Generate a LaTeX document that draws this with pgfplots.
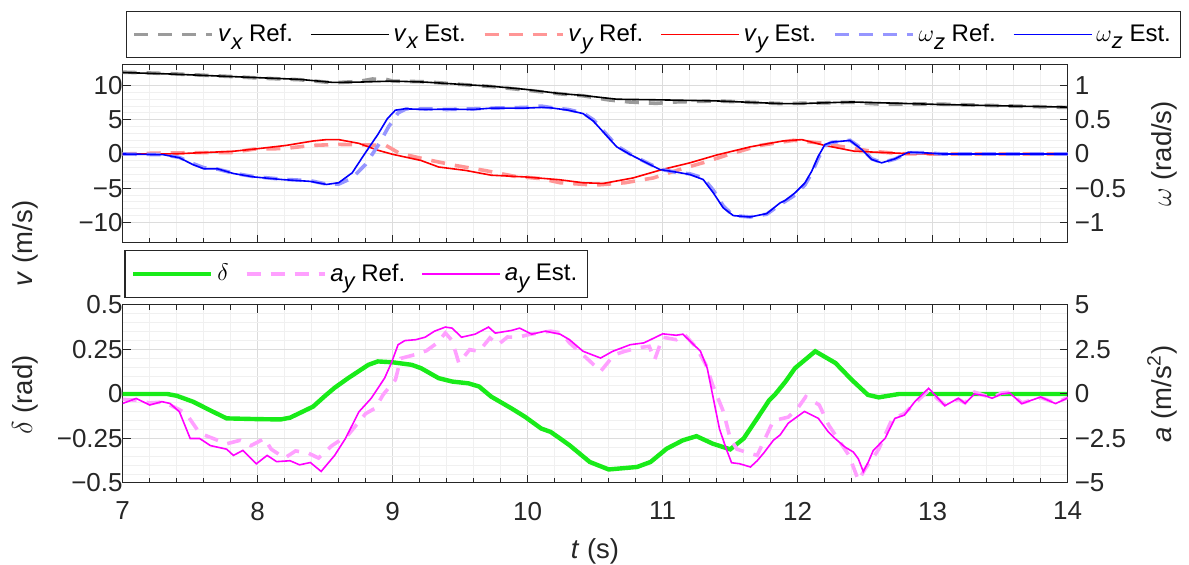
\documentclass[border=0pt]{standalone}
\usepackage{fontspec}
\setmainfont{Liberation Sans}
\usepackage{pgfplots}
\pgfplotsset{compat=1.18}
\definecolor{axgray}{RGB}{38,38,38}
\definecolor{gridmaj}{RGB}{220,220,220}
\definecolor{gridmin}{RGB}{240,240,240}
\definecolor{vxref}{RGB}{155,155,155}
\definecolor{vxest}{RGB}{0,0,0}
\definecolor{vyref}{RGB}{255,150,150}
\definecolor{vyest}{RGB}{255,0,0}
\definecolor{wzref}{RGB}{150,150,255}
\definecolor{wzest}{RGB}{0,0,255}
\definecolor{dgreen}{RGB}{25,235,25}
\definecolor{ayref}{RGB}{255,160,255}
\definecolor{ayest}{RGB}{255,0,255}
\pgfplotsset{
  myaxis/.style={
    scale only axis, width=472.5pt, height=89pt,
    xmin=7, xmax=14,
    axis line style={axgray, line width=0.5pt},
    tick style={axgray, line width=0.5pt},
    major tick length=4pt, minor tick length=2.5pt,
    tick label style={font=\fontsize{13}{15}\selectfont, color=axgray},
  },
  refline/.style={line width=1.8pt, dash pattern=on 7pt off 5pt},
  estline/.style={line width=0.8pt},
  legline/.style={
    legend columns=-1,
    legend image code/.code={\draw[##1] (0pt,0pt) -- (39pt,0pt);},
  },
}
\newcommand{\sub}[1]{\raisebox{-0.6ex}{\fontsize{11}{11}\selectfont\itshape #1}}
\begin{document}
\begin{tikzpicture}
\useasboundingbox (0,0) rectangle (594.5pt,-282.5pt);
% ---------------- top panel, left axis (v)
\begin{axis}[myaxis, at={(61.35pt,-32.5pt)}, anchor=north west,
  ymin=-13, ymax=13, ytick={-10,-5,0,5,10}, yticklabels={−10,−5,0,5,10},
  yticklabel style={xshift=3.5pt},
  xtick={7,8,...,14}, xticklabels={}, minor x tick num=4, minor y tick num=4,
  grid=both, major grid style={gridmaj, line width=0.5pt}, minor grid style={gridmin, line width=0.5pt},
  ytick pos=left, xtick pos=both, minor y tick style={draw=none}]
\addplot[vxref, refline] coordinates {(7.0,11.95) (7.33,11.75) (7.82,11.3) (8.0,11.1) (8.31,10.85) (8.56,10.4) (8.75,10.6) (8.85,10.95) (8.95,10.9) (9.0,10.65) (9.24,10.55) (9.48,10.2) (9.73,9.85) (9.98,9.35) (10.23,8.8) (10.41,8.5) (10.6,7.9) (10.75,7.6) (10.95,7.4) (11.1,7.6) (11.4,7.75) (11.89,7.35) (12.0,7.4) (12.4,7.55) (12.6,7.3) (13.02,7.3) (13.6,7.0) (14.0,6.8)};
\addplot[vxest, estline] coordinates {(7.0,11.9) (7.33,11.7) (7.82,11.3) (8.0,11.15) (8.31,10.9) (8.56,10.45) (8.75,10.5) (9.0,10.65) (9.24,10.5) (9.48,10.2) (9.73,9.9) (9.98,9.45) (10.23,8.85) (10.41,8.55) (10.66,8.0) (11.0,7.9) (11.4,7.75) (11.89,7.35) (12.0,7.35) (12.4,7.6) (13.02,7.25) (13.6,7.0) (14.0,6.85)};
\addplot[vyref, refline] coordinates {(7.0,0) (7.3,0.15) (7.6,0.2) (7.8,0.2) (7.97,0.7) (8.2,0.8) (8.4,1.25) (8.6,1.4) (8.85,1.3) (8.95,1.25) (9.05,0.1) (9.25,-0.8) (9.47,-1.7) (9.68,-2.4) (9.9,-3.25) (10.1,-3.6) (10.24,-4.2) (10.5,-4.55) (10.72,-4.2) (10.93,-3.5) (11.12,-2.3) (11.32,-1.15) (11.5,0.0) (11.72,1.25) (11.97,2.0) (12.17,1.6) (12.38,0.9) (12.55,0.4) (12.76,0.05) (13.0,0) (14.0,0)};
\addplot[vyest, estline] coordinates {(7.0,0) (7.4,0.03) (7.82,0.4) (7.99,0.75) (8.21,1.25) (8.41,1.9) (8.51,2.1) (8.6,2.1) (8.75,1.55) (8.89,0.55) (9.0,-0.05) (9.21,-0.95) (9.34,-1.9) (9.54,-2.4) (9.73,-3.1) (9.98,-3.35) (10.23,-3.75) (10.41,-4.2) (10.56,-4.3) (10.78,-3.5) (11.0,-2.25) (11.2,-1.3) (11.4,-0.15) (11.65,1.05) (11.89,1.9) (12.03,2.1) (12.2,1.25) (12.42,0.4) (12.82,0.05) (13.2,0) (14.0,0)};
\end{axis}
% ---------------- top panel, right axis (omega)
\begin{axis}[myaxis, legline, at={(61.35pt,-32.5pt)}, anchor=north west,
  axis x line=none, axis y line*=right,
  ymin=-1.3, ymax=1.3, ytick={-1,-0.5,0,0.5,1}, yticklabels={−1,−0.5,0,0.5,1},
  legend style={at={(0.0035,1.3034)}, anchor=north west, draw=axgray, line width=0.6pt,
    font=\fontsize{12}{14}\selectfont, inner xsep=3pt, inner ysep=4.3pt,
    /tikz/every even column/.append style={column sep=6.5pt}}]
\addlegendimage{vxref, refline}
\addlegendentry{\textit{v}\sub{x} Ref.}
\addlegendimage{vxest, estline}
\addlegendentry{\textit{v}\sub{x} Est.}
\addlegendimage{vyref, refline}
\addlegendentry{\textit{v}\sub{y} Ref.}
\addlegendimage{vyest, estline}
\addlegendentry{\textit{v}\sub{y} Est.}
\addplot[wzref, refline] coordinates {(7.0,0) (7.3,-0.01) (7.42,-0.05) (7.52,-0.14) (7.6,-0.2) (7.7,-0.22) (7.82,-0.28) (7.97,-0.33) (8.19,-0.37) (8.39,-0.39) (8.51,-0.44) (8.6,-0.44) (8.7,-0.35) (8.8,-0.15) (8.9,0.15) (8.97,0.40) (9.04,0.6) (9.1,0.66) (9.24,0.66) (9.4,0.65) (9.6,0.66) (9.73,0.67) (9.98,0.68) (10.1,0.70) (10.165,0.68) (10.3,0.65) (10.41,0.60) (10.486,0.50) (10.61,0.23) (10.659,0.12) (10.758,0.0) (10.856,-0.10) (10.98,-0.22) (11.104,-0.27) (11.202,-0.29) (11.3,-0.35) (11.375,-0.53) (11.449,-0.76) (11.523,-0.90) (11.647,-0.92) (11.77,-0.88) (11.869,-0.74) (11.98,-0.6) (12.054,-0.45) (12.104,-0.28) (12.153,-0.06) (12.202,0.12) (12.252,0.17) (12.387,0.2) (12.474,0.08) (12.548,-0.07) (12.622,-0.125) (12.72,-0.075) (12.819,0.02) (12.943,0.02) (13.07,0) (14.0,0)};
\addlegendentry{$\omega$\sub{z} Ref.}
\addplot[wzest, estline] coordinates {(7.0,0) (7.3,-0.01) (7.42,-0.055) (7.52,-0.155) (7.6,-0.215) (7.7,-0.215) (7.82,-0.285) (7.97,-0.335) (8.19,-0.375) (8.39,-0.40) (8.51,-0.445) (8.6,-0.42) (8.7,-0.275) (8.79,-0.005) (8.89,0.285) (8.96,0.515) (9.02,0.64) (9.09,0.66) (9.24,0.65) (9.4,0.655) (9.6,0.65) (9.73,0.67) (9.98,0.67) (10.1,0.68) (10.165,0.676) (10.3,0.64) (10.41,0.59) (10.486,0.481) (10.61,0.212) (10.659,0.105) (10.758,-0.007) (10.856,-0.105) (10.98,-0.227) (11.104,-0.266) (11.202,-0.30) (11.3,-0.373) (11.375,-0.568) (11.449,-0.788) (11.523,-0.90) (11.647,-0.92) (11.77,-0.871) (11.869,-0.715) (11.906,-0.68) (11.98,-0.568) (12.054,-0.422) (12.104,-0.251) (12.153,-0.032) (12.202,0.139) (12.252,0.173) (12.387,0.198) (12.474,0.066) (12.548,-0.08) (12.622,-0.129) (12.72,-0.071) (12.819,0.027) (12.943,0.017) (13.07,0) (14.0,0)};
\addlegendentry{$\omega$\sub{z} Est.}
\end{axis}
% ---------------- bottom panel, left axis (delta)
\begin{axis}[myaxis, at={(61.35pt,-152.5pt)}, anchor=north west,
  ymin=-0.5, ymax=0.5, ytick={-0.5,-0.25,0,0.25,0.5}, yticklabels={−0.5,−0.25,0,0.25,0.5},
  yticklabel style={xshift=3.5pt}, xticklabel style={yshift=-6pt},
  xtick={7,8,...,14}, xticklabels={7,8,9,10,11,12,13,14}, minor x tick num=4, minor y tick num=4,
  grid=both, major grid style={gridmaj, line width=0.5pt}, minor grid style={gridmin, line width=0.5pt},
  ytick pos=left, xtick pos=both, xticklabel pos=lower, minor y tick style={draw=none}]
\addplot[dgreen, line width=2.2pt] coordinates {(7.0,0) (7.33,0) (7.4,-0.01) (7.52,-0.043) (7.67,-0.1) (7.77,-0.137) (7.99,-0.141) (8.17,-0.143) (8.24,-0.133) (8.41,-0.071) (8.5,-0.01) (8.57,0.035) (8.67,0.089) (8.82,0.164) (8.89,0.183) (9.0,0.178) (9.14,0.164) (9.21,0.145) (9.34,0.089) (9.44,0.07) (9.56,0.06) (9.64,0.042) (9.73,-0.015) (9.88,-0.081) (9.98,-0.128) (10.1,-0.194) (10.17,-0.213) (10.24,-0.25) (10.31,-0.288) (10.46,-0.382) (10.6,-0.424) (10.81,-0.41) (10.91,-0.382) (11.03,-0.307) (11.15,-0.26) (11.25,-0.237) (11.37,-0.279) (11.5,-0.311) (11.6,-0.25) (11.7,-0.137) (11.79,-0.034) (11.83,-0.005) (11.91,0.07) (11.98,0.145) (12.13,0.24) (12.28,0.174) (12.4,0.08) (12.52,-0.005) (12.6,-0.019) (12.75,0) (14.0,0)};
\end{axis}
% ---------------- bottom panel, right axis (a)
\begin{axis}[myaxis, legline, at={(61.35pt,-152.5pt)}, anchor=north west,
  axis x line=none, axis y line*=right,
  ymin=-5, ymax=5, ytick={-5,-2.5,0,2.5,5}, yticklabels={−5,−2.5,0,2.5,5},
  legend style={at={(0.0018,1.309)}, anchor=north west, draw=axgray, line width=0.6pt,
    font=\fontsize{12}{14}\selectfont, inner xsep=3pt, inner ysep=4.6pt,
    /tikz/every even column/.append style={column sep=6pt}}]
\addlegendimage{dgreen, line width=2.2pt}
\addlegendentry{$\delta$}
\addplot[ayref, refline] coordinates {(7.0,-0.3) (7.1,-0.35) (7.2,-0.5) (7.3,-0.45) (7.4,-0.8) (7.47,-1.1) (7.57,-2.2) (7.67,-2.5) (7.77,-2.8) (7.87,-2.6) (7.95,-2.9) (8.05,-2.5) (8.1,-3.1) (8.2,-3.6) (8.28,-3.2) (8.37,-3.3) (8.45,-3.6) (8.55,-2.9) (8.67,-2.3) (8.8,-1.1) (8.87,-0.8) (8.93,-0.03) (9.02,0.8) (9.06,2.0) (9.16,2.2) (9.25,2.43) (9.33,2.87) (9.39,3.43) (9.44,3.0) (9.49,1.74) (9.57,2.49) (9.64,2.4) (9.72,3.15) (9.78,2.77) (9.85,3.2) (9.93,3.19) (10.02,3.36) (10.17,3.53) (10.25,3.43) (10.31,2.87) (10.38,2.4) (10.46,1.85) (10.54,1.27) (10.64,2.2) (10.72,2.4) (10.82,2.6) (10.9,2.68) (10.94,1.92) (11.0,3.19) (11.1,3.05) (11.16,3.36) (11.25,2.6) (11.32,1.64) (11.37,0.51) (11.45,-1.0) (11.5,-2.5) (11.55,-3.1) (11.63,-3.3) (11.7,-3.45) (11.82,-1.5) (11.93,-1.3) (12.0,-0.8) (12.06,-0.15) (12.16,-0.62) (12.23,-1.75) (12.38,-3.45) (12.45,-4.86) (12.5,-4.2) (12.57,-3.45) (12.6,-3.1) (12.7,-1.4) (12.79,-1.1) (12.87,-0.5) (12.97,0.2) (13.04,-0.3) (13.09,-0.6) (13.19,-0.3) (13.24,-0.5) (13.31,0.1) (13.39,-0.1) (13.44,-0.2) (13.51,0.05) (13.57,0.1) (13.66,-0.5) (13.8,-0.2) (13.91,-0.5) (14.0,-0.2)};
\addlegendentry{\textit{a}\sub{y} Ref.}
\addplot[ayest, estline] coordinates {(7.0,-0.53) (7.1,-0.25) (7.2,-0.62) (7.29,-0.43) (7.35,-0.53) (7.42,-1.0) (7.5,-2.5) (7.57,-2.5) (7.65,-2.9) (7.77,-3.1) (7.82,-3.45) (7.89,-3.17) (7.99,-3.92) (8.07,-3.45) (8.14,-3.8) (8.24,-3.75) (8.31,-3.98) (8.39,-3.85) (8.47,-4.35) (8.57,-3.45) (8.65,-2.5) (8.75,-1.0) (8.84,-0.25) (8.94,0.89) (8.99,1.74) (9.04,2.77) (9.09,3.0) (9.17,3.05) (9.24,3.19) (9.31,3.53) (9.39,3.76) (9.44,3.7) (9.51,3.19) (9.61,3.36) (9.71,3.76) (9.76,3.42) (9.88,3.57) (9.94,3.7) (10.03,3.36) (10.13,3.53) (10.24,3.36) (10.31,3.05) (10.41,2.4) (10.54,2.02) (10.63,2.4) (10.76,2.77) (10.86,2.87) (10.91,3.05) (11.0,3.38) (11.1,3.3) (11.15,3.36) (11.23,2.77) (11.28,2.4) (11.33,1.45) (11.37,-0.06) (11.42,-1.94) (11.47,-3.07) (11.51,-3.86) (11.57,-3.92) (11.65,-4.1) (11.7,-3.75) (11.75,-3.3) (11.82,-2.6) (11.87,-2.3) (11.93,-1.64) (12.05,-0.98) (12.153,-1.37) (12.227,-2.13) (12.277,-2.5) (12.35,-2.98) (12.412,-3.26) (12.449,-3.64) (12.486,-4.36) (12.523,-3.82) (12.56,-3.17) (12.647,-2.5) (12.72,-1.37) (12.79,-1.19) (12.87,-0.41) (12.97,0.32) (13.04,-0.24) (13.09,-0.66) (13.19,-0.24) (13.24,-0.53) (13.31,0.0) (13.39,-0.1) (13.44,-0.24) (13.51,0) (13.57,0.06) (13.66,-0.54) (13.8,-0.17) (13.91,-0.54) (14.0,-0.22)};
\addlegendentry{\textit{a}\sub{y} Est.}
\end{axis}
% ---------------- axis labels
\node[rotate=90, font=\fontsize{13.75}{15}\selectfont, text=axgray] at (12.5pt,-121.75pt) {\textit{v} (m/s)};
\node[rotate=90, font=\fontsize{13.75}{15}\selectfont, text=axgray] at (12.5pt,-197.5pt) {$\delta$ (rad)};
\node[rotate=90, font=\fontsize{13.75}{15}\selectfont, text=axgray] at (582pt,-77pt) {$\omega$ (rad/s)};
\node[rotate=90, font=\fontsize{13.75}{15}\selectfont, text=axgray] at (581pt,-197pt) {\textit{a} (m/s\textsuperscript{2})};
\node[font=\fontsize{13.75}{15}\selectfont, text=axgray] at (297.5pt,-275.5pt) {\textit{t} (s)};
\end{tikzpicture}
\end{document}
